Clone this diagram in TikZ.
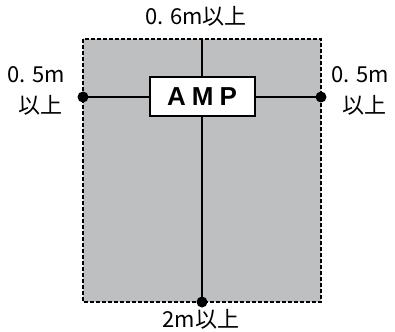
\documentclass[tikz,border=0pt]{standalone}
\usepackage{fontspec}
\setmainfont{Liberation Sans}
\newfontfamily\jpfont{Noto Sans CJK JP}
\definecolor{zonegray}{RGB}{190,191,193}
\begin{document}
\begin{tikzpicture}[x=1pt,y=-1pt,
  lbl/.style={font=\jpfont\fontsize{22}{24}\selectfont, inner sep=0pt},
  wire/.style={line width=1.8pt, black},
  dotmark/.style={circle, fill=black, inner sep=0pt, minimum size=11pt}]
\useasboundingbox (0,0) rectangle (395,331);
\fill[zonegray] (83,39) rectangle (321,302);
\draw[line width=1.2pt, dash pattern=on 4pt off 2pt] (83,39) rectangle (321,302);
\coordinate (top) at (202,39);
\node[dotmark] (dl) at (83,97) {};
\node[dotmark] (dr) at (321,97) {};
\node[dotmark] (db) at (202,302) {};
\node[draw, line width=2pt, fill=white, minimum width=105pt, minimum height=39pt, inner sep=0pt,
  font=\bfseries\fontsize{26}{28}\selectfont] (amp) at (202,97) {A\kern6pt M\kern6pt P};
\draw[wire] (top) -- (amp.north);
\draw[wire] (amp.south) -- (db.center);
\draw[wire] (dl.center) -- (amp.west);
\draw[wire] (amp.east) -- (dr.center);
\node[lbl] (t1) at (196,16) {0. 6m以上};
\node[lbl] (l1) at (36,75) {0. 5m};
\node[lbl] (l2) at (40,105) {以上};
\node[lbl] (r1) at (360,75) {0. 5m};
\node[lbl] (r2) at (364,105) {以上};
\node[lbl] (b1) at (201,319) {2m以上};
\end{tikzpicture}
\end{document}
